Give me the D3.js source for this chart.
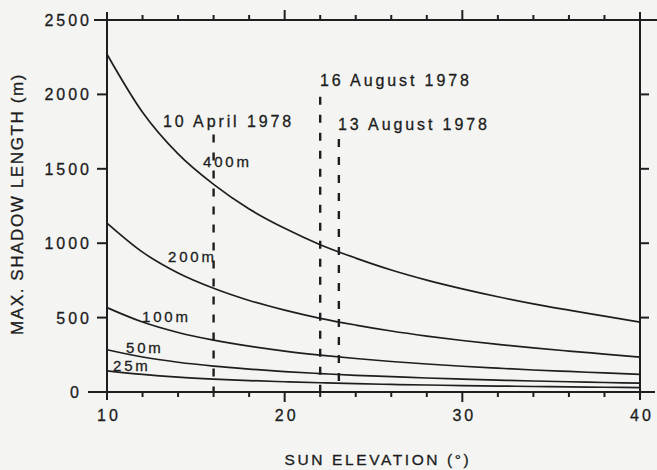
<!DOCTYPE html>
<html>
<head>
<meta charset="utf-8">
<script src="https://cdn.jsdelivr.net/npm/d3@7"></script>
<style>
  html, body { margin: 0; padding: 0; background: #f4f5f3; }
  svg { display: block; }
  text { font-family: "Liberation Sans", Arial, sans-serif; fill: #1c1c1c; stroke: #1c1c1c; stroke-width: 0.3px; }
</style>
</head>
<body>
<svg id="chart" width="657" height="470"></svg>
<script>
// ---- data ----
const elevations = [10, 12, 14, 16, 18, 20, 22, 24, 26, 28, 30, 32, 34, 36, 38, 40];
const series400 = [2270, 1880, 1600, 1395, 1230, 1100, 990, 900, 820, 752, 693, 640, 592, 550, 510, 470];
const series200 = [1135, 940, 800, 697, 615, 550, 495, 450, 410, 376, 346, 320, 296, 275, 255, 235];
const series100 = [567, 470, 400, 349, 308, 275, 248, 225, 205, 188, 173, 160, 148, 138, 128, 118];
const series50  = [284, 235, 200, 174, 154, 137, 124, 112, 103, 94, 87, 80, 74, 69, 64, 59];
const series25  = [142, 118, 100, 87, 77, 69, 62, 56, 51, 47, 43, 40, 37, 34, 32, 30];
const seriesNames = ["400m", "200m", "100m", "50m", "25m"];

const dateLabels = ["10 April 1978", "16 August 1978", "13 August 1978"];
const dateElevations = [16, 22, 23.05];
const dateTops = [1730, 1985, 1700];

const xTicks = [10, 20, 30, 40];
const xMinorTicks = [12, 14, 16, 18, 22, 24, 26, 28, 32, 34, 36, 38];
const yTicks = [0, 500, 1000, 1500, 2000, 2500];

// ---- layout ----
const svg = d3.select("#chart");
const x = d3.scaleLinear().domain([10, 40]).range([107, 640]);
const y = d3.scaleLinear().domain([0, 2500]).range([392, 20]);
const ink = "#1e1e1e";

const g = svg.append("g");

// axes frame
g.append("line").attr("x1", 88).attr("x2", 655).attr("y1", y(0)).attr("y2", y(0))
  .attr("stroke", ink).attr("stroke-width", 2);
g.append("line").attr("x1", 94).attr("x2", 657).attr("y1", y(2500)).attr("y2", y(2500))
  .attr("stroke", ink).attr("stroke-width", 2);
g.append("line").attr("x1", x(10)).attr("x2", x(10)).attr("y1", y(2500) - 8).attr("y2", y(0) + 8)
  .attr("stroke", ink).attr("stroke-width", 2);
g.append("line").attr("x1", x(40)).attr("x2", x(40)).attr("y1", y(2500) - 8).attr("y2", y(0) + 8)
  .attr("stroke", ink).attr("stroke-width", 2);

// left y ticks (outward)
g.selectAll(".ytl").data(yTicks.filter(d => d > 0 && d < 2500)).enter().append("line")
  .attr("x1", x(10) - 10).attr("x2", x(10)).attr("y1", d => y(d)).attr("y2", d => y(d))
  .attr("stroke", ink).attr("stroke-width", 2);
// right y ticks (outward)
g.selectAll(".ytr").data(yTicks.filter(d => d > 0 && d < 2500)).enter().append("line")
  .attr("x1", x(40)).attr("x2", x(40) + 9).attr("y1", d => y(d)).attr("y2", d => y(d))
  .attr("stroke", ink).attr("stroke-width", 2);

// bottom x ticks
g.selectAll(".xbm").data(xMinorTicks).enter().append("line")
  .attr("x1", d => x(d)).attr("x2", d => x(d)).attr("y1", y(0)).attr("y2", y(0) + 5)
  .attr("stroke", ink).attr("stroke-width", 2);
g.selectAll(".xbM").data(xTicks.filter(d => d > 10 && d < 40)).enter().append("line")
  .attr("x1", d => x(d)).attr("x2", d => x(d)).attr("y1", y(0)).attr("y2", y(0) + 10)
  .attr("stroke", ink).attr("stroke-width", 2);
// top x ticks
g.selectAll(".xtm").data(xMinorTicks).enter().append("line")
  .attr("x1", d => x(d)).attr("x2", d => x(d)).attr("y1", y(2500)).attr("y2", y(2500) - 5)
  .attr("stroke", ink).attr("stroke-width", 2);
g.selectAll(".xtM").data(xTicks.filter(d => d > 10 && d < 40)).enter().append("line")
  .attr("x1", d => x(d)).attr("x2", d => x(d)).attr("y1", y(2500)).attr("y2", y(2500) - 10)
  .attr("stroke", ink).attr("stroke-width", 2);

// y tick labels
g.selectAll(".ylab").data(yTicks).enter().append("text")
  .attr("x", d => d === 0 ? 82 : 92)
  .attr("y", d => y(d) + 6)
  .attr("text-anchor", "end")
  .style("font-size", "16px").style("letter-spacing", "3px")
  .text(d => d);

// x tick labels
g.selectAll(".xlab").data(xTicks).enter().append("text")
  .attr("x", d => x(d) + 2)
  .attr("y", 421)
  .attr("text-anchor", "middle")
  .style("font-size", "16px").style("letter-spacing", "3px")
  .text(d => d);

// axis titles
g.append("text")
  .attr("transform", "translate(23,204) rotate(-90)")
  .attr("text-anchor", "middle")
  .style("font-size", "17px").style("letter-spacing", "1.6px")
  .text("MAX. SHADOW LENGTH (m)");
g.append("text")
  .attr("x", 378).attr("y", 465)
  .attr("text-anchor", "middle")
  .style("font-size", "15.5px").style("letter-spacing", "2.6px")
  .text("SUN ELEVATION (°)");

// curves
const allSeries = [series400, series200, series100, series50, series25];
const line = d3.line()
  .x((d, i) => x(elevations[i]))
  .y(d => y(d))
  .curve(d3.curveMonotoneX);
g.selectAll(".curve").data(allSeries).enter().append("path")
  .attr("d", d => line(d))
  .attr("fill", "none").attr("stroke", ink).attr("stroke-width", 1.7);

// dashed date lines
g.selectAll(".dash").data(dateElevations).enter().append("line")
  .attr("x1", d => x(d)).attr("x2", d => x(d))
  .attr("y1", (d, i) => y(dateTops[i])).attr("y2", y(0))
  .attr("stroke", ink).attr("stroke-width", 2.4)
  .attr("stroke-dasharray", "8,10");

// curve labels
const curveLabelPos = [[203, 167], [168, 262], [142, 322], [126, 353], [113, 371]];
g.selectAll(".clab").data(seriesNames).enter().append("text")
  .attr("x", (d, i) => curveLabelPos[i][0])
  .attr("y", (d, i) => curveLabelPos[i][1])
  .style("font-size", "15px").style("letter-spacing", "2.8px")
  .text(d => d);

// date labels
const dateLabelPos = [[163, 127], [320, 86], [338, 130]];
g.selectAll(".dlab").data(dateLabels).enter().append("text")
  .attr("x", (d, i) => dateLabelPos[i][0])
  .attr("y", (d, i) => dateLabelPos[i][1])
  .style("font-size", "16px").style("letter-spacing", "2.9px")
  .text(d => d);
</script>
</body>
</html>
